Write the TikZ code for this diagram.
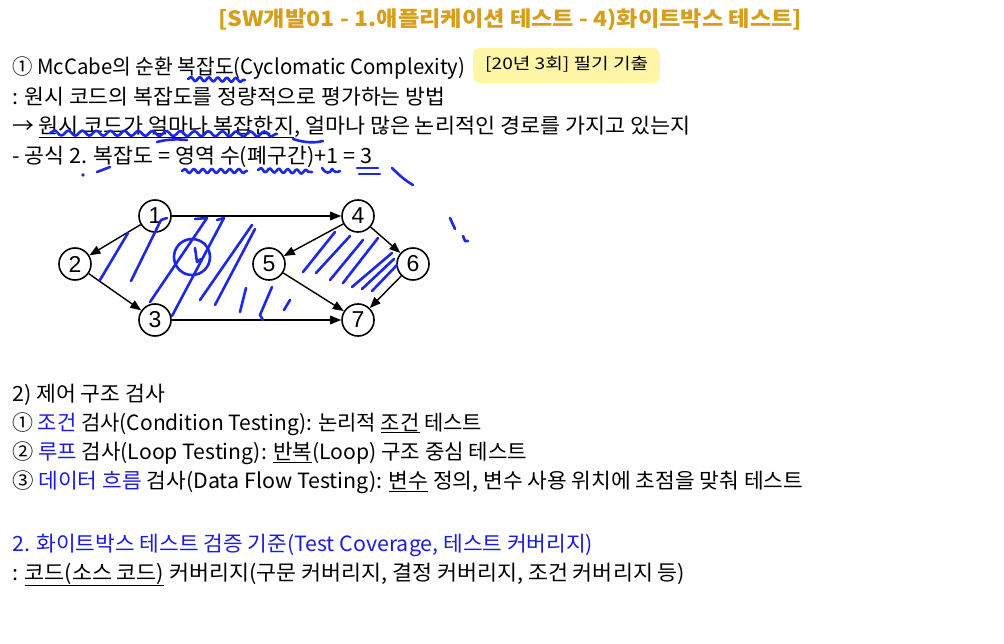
\documentclass[tikz,border=0pt]{standalone}
\usepackage{fontspec}
\usepackage{graphicx}
\setmainfont{Noto Sans CJK KR}
\newfontfamily\arialf{Liberation Sans}
\usetikzlibrary{arrows.meta,decorations.pathmorphing}
\definecolor{titlegold}{RGB}{214,158,26}
\definecolor{badgey}{RGB}{255,246,168}
\definecolor{txtblue}{RGB}{28,28,220}
\definecolor{penblue}{RGB}{28,40,230}
\newcommand\fitw[2]{\resizebox{#1pt}{\height}{#2}}
\newcommand\ulx[1]{\underline{#1}}
\newcommand\bl[1]{\textcolor{txtblue}{#1}}
\tikzset{
  txt/.style={anchor=base west, inner sep=0pt, font=\fontsize{21}{24}\selectfont},
  gnode/.style={circle, draw, line width=1.6pt, minimum size=32pt, inner sep=0pt, font=\arialf\fontsize{23}{23}\selectfont},
  edge/.style={line width=1.4pt, -{Triangle[length=11pt,width=8.5pt]}},
  pen/.style={draw=penblue, line width=2.6pt, line cap=round, line join=round},
  wavy/.style={pen, decorate, decoration={snake, segment length=9pt, amplitude=2pt}}
}
\begin{document}
\begin{tikzpicture}[x=1pt,y=-1pt]
\useasboundingbox (0,0) rectangle (1004,644);
\fill[white] (0,0) rectangle (1004,644);

% title
\node[anchor=base west, inner sep=0pt, text=titlegold, font=\fontsize{21}{24}\selectfont\bfseries] (title) at (218,27)
  {\fitw{584}{[SW개발01 - 1.애플리케이션 테스트 - 4)화이트박스 테스트]}};

% badge
\fill[badgey, rounded corners=7pt] (473,48) rectangle (660,83);
\node[anchor=base west, inner sep=0pt, font=\fontsize{16}{18}\selectfont] (badge) at (485,70)
  {\fitw{163}{[20년 3회] 필기 기출}};

% upper text
\node[txt] (l1) at (12,75) {\fitw{453}{① McCabe의 순환 복잡도(Cyclomatic Complexity)}};
\node[txt] (l2) at (12,105) {\fitw{433}{: 원시 코드의 복잡도를 정량적으로 평가하는 방법}};
\node[txt] (l3) at (12,134) {\fitw{678}{→ \ulx{원시 코드가 얼마나 복잡한지}, 얼마나 많은 논리적인 경로를 가지고 있는지}};
\node[txt] (l4) at (12,164) {\fitw{360}{- 공식 2. 복잡도 = 영역 수(폐구간)+1 = 3}};

% graph
\node[gnode] (g1) at (155,216) {1};
\node[gnode] (g2) at (75,264) {2};
\node[gnode] (g3) at (155,320) {3};
\node[gnode] (g4) at (358,216) {4};
\node[gnode] (g5) at (269,264) {5};
\node[gnode] (g6) at (413,264) {6};
\node[gnode] (g7) at (358,320) {7};
\draw[edge] (g1) -- (g2);
\draw[edge] (g1) -- (g4);
\draw[edge] (g2) -- (g3);
\draw[edge] (g3) -- (g7);
\draw[edge] (g4) -- (g5);
\draw[edge] (g4) -- (g6);
\draw[edge] (g5) -- (g7);
\draw[edge] (g6) -- (g7);

% lower text
\node[txt] (c0) at (12,401) {\fitw{153}{2) 제어 구조 검사}};
\node[txt] (c1) at (12,430) {\fitw{470}{① \bl{조건} 검사(Condition Testing): 논리적 \ulx{조건} 테스트}};
\node[txt] (c2) at (12,459) {\fitw{515}{② \bl{루프} 검사(Loop Testing): \ulx{반복}(Loop) 구조 중심 테스트}};
\node[txt] (c3) at (12,488) {\fitw{791}{③ \bl{데이터 흐름} 검사(Data Flow Testing): \ulx{변수} 정의, 변수 사용 위치에 초점을 맞춰 테스트}};
\node[txt, text=txtblue] (h2) at (12,551) {\fitw{581}{2. 화이트박스 테스트 검증 기준(Test Coverage, 테스트 커버리지)}};
\node[txt] (c4) at (12,580) {\fitw{673}{: \ulx{코드(소스 코드)} 커버리지(구문 커버리지, 결정 커버리지, 조건 커버리지 등)}};

% handwritten pen strokes
\draw[wavy] (188,79) -- (245,80);
\draw[wavy, decoration={snake, segment length=14pt, amplitude=2.5pt}] (50,133) -- (277,134);
\draw[pen] (293,139) .. controls (305,143) and (315,143) .. (323,141);
\draw[pen] (157,142) .. controls (168,139) and (178,139) .. (187,140);
\fill[penblue] (83,175) circle (1.8);
\draw[pen] (97,172) -- (110,167);
\draw[wavy] (182,171) -- (247,171);
\draw[wavy] (258,170) -- (312,172);
\draw[pen] (322,168) .. controls (326,174) and (330,174) .. (332,169) .. controls (334,172) and (337,173) .. (340,171);
\draw[pen] (357,168) -- (378,168);
\draw[pen] (359,174) -- (380,174);
\draw[pen] (392,168) .. controls (400,176) and (406,181) .. (413,185);
\draw[pen] (450,218) -- (455,229);
\draw[pen] (463,236) -- (465,241) -- (468,241);

\draw[pen] (128,233) -- (100,280);
\draw[pen] (167,218) -- (161,220) -- (131,281);
\draw[pen] (192,257) circle (18);
\draw[pen] (195,248) -- (197,262) -- (201,259);
\draw[pen] (195,219) -- (207,218) -- (150,302);
\draw[pen] (217,220) -- (224,218) -- (172,316);
\draw[pen] (252,225) -- (200,300);
\draw[pen] (255,229) -- (215,305);
\draw[pen] (246,288) -- (240,312);
\draw[pen] (272,287) -- (260,315) -- (263,320);
\draw[pen] (290,300) -- (284,310);
\draw[pen] (335,232) -- (303,272);
\draw[pen] (350,236) -- (316,273);
\draw[pen] (363,240) -- (330,280);
\draw[pen] (378,238) -- (343,283);
\draw[pen] (392,253) -- (352,287);
\draw[pen] (394,259) -- (362,289);
\draw[pen] (397,265) -- (372,291);
\end{tikzpicture}
\end{document}
